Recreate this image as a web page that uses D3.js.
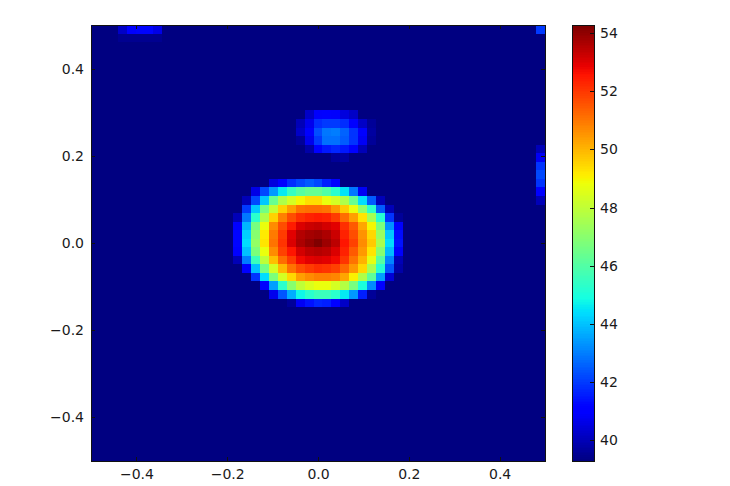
<!DOCTYPE html>
<html>
<head>
<meta charset="utf-8">
<script src="https://cdn.jsdelivr.net/npm/d3@7"></script>
<style>
  html, body { margin: 0; padding: 0; background: #fff; }
  svg { display: block; }
  text { font-family: "DejaVu Sans", sans-serif; font-size: 14px; fill: #1a1a1a; }
  .cell, .level { shape-rendering: crispEdges; }
  .domain, .tick line { stroke: #111; stroke-width: 1px; shape-rendering: crispEdges; }
</style>
</head>
<body>
<svg id="chart" width="730" height="486"></svg>
<script>
const gridSize = 51;
const background = 39.3;
const vMin = 39.28, vMax = 54.28;

const xTicks = [-0.4, -0.2, 0, 0.2, 0.4];
const yTicks = [-0.4, -0.2, 0, 0.2, 0.4];
const barTicks = [40, 42, 44, 46, 48, 50, 52, 54];

// [row from top, first column]
const mainBlob = [
  [18, 20, [40.5, 41, 41.8, 42.2, 42.5, 42.2, 41.6, 41]],
  [19, 18, [40.6, 42.2, 43.4, 44.6, 45.5, 46.1, 46.4, 46.4, 46, 45.3, 44.5, 42.9, 40.8]],
  [20, 17, [40, 42.2, 44.1, 46.4, 47.7, 48.4, 49, 49.4, 49.4, 48.8, 48.4, 47.7, 46.4, 44.4, 42.5, 40]],
  [21, 17, [42, 44.1, 46.6, 48.1, 49.6, 50.4, 51.1, 51.2, 51.2, 51.1, 50.5, 49.7, 48.8, 47.1, 45.3, 42.5, 40]],
  [22, 16, [40, 42.9, 45.3, 47.7, 49.6, 50.9, 51.7, 52.2, 52.4, 52.5, 52.4, 52, 51.2, 50.4, 49.3, 47.5, 45.2, 41.9, 39.6]],
  [23, 16, [41, 43.8, 46.7, 48.8, 50.7, 51.7, 52.5, 53.1, 53.3, 53.4, 53.2, 53, 52.2, 51.5, 50.3, 49, 46.8, 43.3, 41]],
  [24, 16, [41.2, 44.2, 47, 49.2, 51, 52, 53, 53.6, 53.8, 53.9, 53.7, 53.3, 52.4, 51.7, 50.6, 49.5, 47.3, 44.1, 41.3]],
  [25, 16, [41.2, 44.4, 47.2, 49.3, 51.1, 52.1, 53.1, 53.7, 54, 54.28, 53.9, 53.5, 52.6, 51.9, 50.7, 49.7, 47.6, 44.4, 41.4]],
  [26, 16, [41, 44, 46.8, 48.8, 50.7, 51.9, 52.6, 53.2, 53.5, 53.6, 53.5, 53.1, 52.4, 51.5, 50.5, 49.3, 47, 43.9, 40.9]],
  [27, 16, [40, 43, 45.6, 48, 49.9, 51.2, 52, 52.8, 53, 53.1, 53, 52.8, 52.1, 51.1, 50.1, 48.7, 46.1, 43.1, 40]],
  [28, 17, [41, 44, 46.6, 48.4, 50, 51.1, 51.7, 52, 52.2, 52.1, 51.9, 51.3, 50.5, 49.5, 47.6, 45.2, 42.4, 39.8]],
  [29, 18, [41.9, 44.4, 46.8, 48.4, 49.5, 50.4, 50.7, 50.9, 50.9, 50.8, 50.3, 49.1, 47.7, 46.2, 43.5, 40.4]],
  [30, 19, [41.2, 43.5, 45.3, 47, 48, 48.5, 48.8, 48.8, 48.4, 47.8, 46.7, 45, 43.2, 41]],
  [31, 20, [40.7, 42.4, 43.7, 44.8, 45.3, 45.6, 45.6, 45.3, 44.6, 43.4, 41.6, 39.6]],
  [32, 22, [39.6, 40.8, 41.4, 41.7, 41.6, 41, 40.2]]
];

const smallSpot = [
  [10, 24, [40.2, 40.9, 41, 40.9, 40.5, 40.2]],
  [11, 23, [40, 40.7, 41.8, 42, 42, 41.8, 41, 40.2, 39.6]],
  [12, 23, [40.2, 41, 42.3, 42.9, 43, 42.6, 41.9, 41, 39.7]],
  [13, 23, [39.6, 40.7, 42, 42.8, 42.8, 42.5, 41.9, 40.8, 39.6]],
  [14, 24, [39.8, 41, 41.5, 41.7, 41.5, 41, 40]],
  [15, 27, [39.6, 39.7]]
];

const topBand = [
  [0, 3, [40.2, 41, 41.2, 41.2, 40.6]],
  [1, 3, [39.5, 39.5, 39.5, 39.5, 39.5]]
];

const rightEdge = [
  [0, 50, [42]],
  [14, 50, [40]],
  [15, 50, [40.8]],
  [16, 50, [41.9]],
  [17, 50, [42.2]],
  [18, 50, [41.9]],
  [19, 50, [41]],
  [20, 50, [40]]
];

// fill the grid
const grid = d3.range(gridSize).map(() => d3.range(gridSize).map(() => background));
[mainBlob, smallSpot, topBand, rightEdge].forEach(part => {
  part.forEach(([row, col, vals]) => {
    vals.forEach((v, i) => { grid[row][col + i] = v; });
  });
});
const cells = [];
grid.forEach((r, i) => r.forEach((v, j) => cells.push({ row: i, col: j, value: v })));

// matplotlib jet
const red = d3.scaleLinear().domain([0, 0.35, 0.66, 0.89, 1]).range([0, 0, 1, 1, 0.5]);
const green = d3.scaleLinear().domain([0, 0.125, 0.375, 0.64, 0.91, 1]).range([0, 0, 1, 1, 0, 0]);
const blue = d3.scaleLinear().domain([0, 0.11, 0.34, 0.65, 1]).range([0.5, 1, 1, 0, 0]);
const norm = d3.scaleLinear().domain([vMin, vMax]).clamp(true);
function jet(v) {
  const t = norm(v);
  return d3.rgb(red(t) * 255, green(t) * 255, blue(t) * 255).formatRgb();
}

const svg = d3.select("#chart");

const plotLeft = 91, plotRight = 545, plotTop = 25, plotBottom = 461;
const barLeft = 572, barRight = 594;

const x = d3.scaleLinear().domain([-0.5, 0.5]).range([plotLeft, plotRight]);
const y = d3.scaleLinear().domain([-0.5, 0.5]).range([plotBottom, plotTop]);
const colX = d3.scaleBand().domain(d3.range(gridSize)).range([plotLeft, plotRight]);
const rowY = d3.scaleBand().domain(d3.range(gridSize)).range([plotTop, plotBottom]);

svg.selectAll(".cell")
    .data(cells)
    .enter().append("rect")
    .attr("class", "cell")
    .attr("x", d => colX(d.col))
    .attr("y", d => rowY(d.row))
    .attr("width", colX.bandwidth() + 0.5)
    .attr("height", rowY.bandwidth() + 0.5)
    .attr("fill", d => jet(d.value));

const fmt = d3.format(".1f");

svg.append("g").attr("transform", `translate(0,${plotBottom})`)
    .call(d3.axisBottom(x).tickValues(xTicks).tickFormat(fmt).tickSizeInner(-4).tickSizeOuter(0).tickPadding(8));
svg.append("g").attr("transform", `translate(0,${plotTop})`)
    .call(d3.axisTop(x).tickValues(xTicks).tickFormat("").tickSizeInner(-4).tickSizeOuter(0));
svg.append("g").attr("transform", `translate(${plotLeft},0)`)
    .call(d3.axisLeft(y).tickValues(yTicks).tickFormat(fmt).tickSizeInner(-4).tickSizeOuter(0).tickPadding(7));
svg.append("g").attr("transform", `translate(${plotRight},0)`)
    .call(d3.axisRight(y).tickValues(yTicks).tickFormat("").tickSizeInner(-4).tickSizeOuter(0));

// colorbar
const barY = d3.scaleLinear().domain([vMin, vMax]).range([plotBottom, plotTop]);
const levels = d3.range(256).map(i => vMin + (vMax - vMin) * i / 255);
const levelStep = (plotBottom - plotTop) / 256;

svg.selectAll(".level")
    .data(levels)
    .enter().append("rect")
    .attr("class", "level")
    .attr("x", barLeft)
    .attr("width", barRight - barLeft)
    .attr("y", (d, i) => plotBottom - (i + 1) * levelStep)
    .attr("height", levelStep + 1)
    .attr("fill", d => jet(d));

svg.append("rect")
    .attr("x", barLeft).attr("y", plotTop)
    .attr("width", barRight - barLeft).attr("height", plotBottom - plotTop)
    .attr("fill", "none").attr("stroke", "#111").attr("stroke-width", 1)
    .attr("shape-rendering", "crispEdges");

svg.append("g").attr("transform", `translate(${barRight},0)`)
    .call(d3.axisRight(barY).tickValues(barTicks).tickFormat(d3.format("d")).tickSizeInner(-4).tickSizeOuter(0).tickPadding(6))
    .select(".domain").remove();
</script>
</body>
</html>
